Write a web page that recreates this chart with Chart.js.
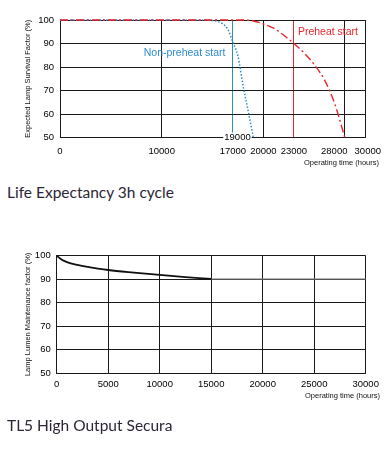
<!DOCTYPE html>
<html>
<head>
<meta charset="utf-8">
<script src="https://cdn.jsdelivr.net/npm/chart.js@4.4.1/dist/chart.umd.min.js"></script>
<style>
  html, body { margin: 0; padding: 0; background: #fff; }
  body { width: 389px; height: 456px; position: relative; overflow: hidden; }
  canvas { position: absolute; left: 0; }
  #lifeChart { top: 0; }
  #lumenChart { top: 230px; }
  .caption { position: absolute; left: 7px; font: 15.5px Lato, "Open Sans", sans-serif; color: #2b2535; white-space: nowrap; }
</style>
</head>
<body>
<canvas id="lifeChart" width="389" height="175"></canvas>
<div class="caption" style="top:183px">Life Expectancy 3h cycle</div>
<canvas id="lumenChart" width="389" height="190"></canvas>
<div class="caption" style="top:416px">TL5 High Output Secura</div>
<script>
// life expectancy, 3h cycle
const nonPreheatHours = [0, 5000, 10000, 14000, 15000, 15500, 16000, 16500, 17000, 17500, 18000, 18500, 19000];
const nonPreheatSurvival = [100, 100, 100, 100, 99.8, 99.4, 98.3, 96, 90.5, 84.5, 72, 61.3, 50];
const preheatHours = [0, 10000, 18000, 19000, 20000, 21000, 22000, 23000, 24000, 25000, 26000, 27000, 28000];
const preheatSurvival = [100, 100, 100, 99.6, 98.3, 96.5, 93.5, 90, 86, 81, 74.5, 64.5, 50];
const lifeTicks = [0, 10000, 17000, 20000, 23000, 28000, 30000];

// lumen maintenance
const lumenHours = [0, 500, 1000, 2000, 3000, 4000, 5000, 7500, 10000, 12500, 15000];
const lumenFactor = [100, 98.3, 97.3, 96.1, 95.2, 94.5, 93.9, 92.8, 91.8, 90.9, 90.1];
const plateauHours = [15000, 30000];
const plateauFactor = [90, 90];

const BLUE = '#2b8ccb';
const RED = '#e5262c';
const GRID = '#1a1a1a';
const tickFont = { family: '"Liberation Sans", Arial, sans-serif', size: 9.5 };
const titleFont = { family: '"Liberation Sans", Arial, sans-serif', size: 7.5 };

const pairs = (xs, ys) => xs.map((x, i) => ({ x: x, y: ys[i] }));

// text notes placed in data units
const notesPlugin = {
  id: 'notes',
  afterDatasetsDraw(chart, args, opts) {
    const ctx = chart.ctx;
    const xs = chart.scales.x, ys = chart.scales.y;
    (opts.items || []).forEach(n => {
      ctx.save();
      ctx.font = n.font;
      ctx.textAlign = n.align || 'left';
      ctx.textBaseline = 'middle';
      const px = xs.getPixelForValue(n.x);
      const py = ys.getPixelForValue(n.y);
      if (n.bg) {
        const w = ctx.measureText(n.text).width;
        const left = n.align === 'center' ? px - w / 2 : px;
        ctx.fillStyle = n.bg;
        ctx.fillRect(left - 1, py - 5, w + 2, 10);
      }
      ctx.fillStyle = n.color;
      ctx.fillText(n.text, px, py);
      ctx.restore();
    });
    (opts.pixelItems || []).forEach(n => {
      ctx.save();
      ctx.font = n.font;
      ctx.textAlign = n.align || 'left';
      ctx.textBaseline = 'middle';
      ctx.fillStyle = n.color;
      ctx.fillText(n.text, n.px, n.py);
      ctx.restore();
    });
  }
};

new Chart(document.getElementById('lifeChart'), {
  type: 'line',
  data: {
    datasets: [
      {
        data: pairs(preheatHours, preheatSurvival),
        borderColor: RED, borderWidth: 1.4, borderDash: [8, 3, 2, 3],
        pointRadius: 0, cubicInterpolationMode: 'monotone', clip: false
      },
      {
        data: pairs(nonPreheatHours, nonPreheatSurvival),
        borderColor: BLUE, borderWidth: 1.5, borderDash: [1.5, 1.8],
        pointRadius: 0, cubicInterpolationMode: 'monotone', clip: false
      }
    ]
  },
  options: {
    responsive: false,
    animation: false,
    layout: { padding: { top: 20, right: 19, left: 0, bottom: 0 } },
    plugins: {
      legend: { display: false },
      tooltip: { enabled: false },
      notes: {
        items: [
          { text: 'Non-preheat start', x: 8230, y: 85.8, color: BLUE, font: '10.5px "Liberation Sans", Arial, sans-serif' },
          { text: 'Preheat start', x: 23390, y: 95, color: RED, font: '10.5px "Liberation Sans", Arial, sans-serif' },
          { text: '19000', x: 17450, y: 50, align: 'center', bg: '#fff', color: '#000', font: '9.5px "Liberation Sans", Arial, sans-serif' }
        ],
        pixelItems: [
          { text: 'Operating time (hours)', px: 379, py: 163, align: 'right', color: '#111', font: '7.5px "Liberation Sans", Arial, sans-serif' }
        ]
      }
    },
    scales: {
      x: {
        type: 'linear', min: 0, max: 30000,
        afterFit: s => { s.height = 37.5; },
        afterBuildTicks: s => { s.ticks = lifeTicks.map(v => ({ value: v })); },
        grid: {
          color: c => c.tick && c.tick.value === 17000 ? BLUE : (c.tick && c.tick.value === 23000 ? RED : GRID),
          lineWidth: 1, drawTicks: false
        },
        border: { color: GRID, width: 1 },
        ticks: {
          autoSkip: false, maxRotation: 0, padding: 8, color: '#000', font: tickFont,
          callback: v => v === 28000 ? '28000\u2007\u2007\u2007\u2007' : (v === 30000 ? '\u200730000' : String(v))
        }
      },
      y: {
        min: 50, max: 100,
        afterFit: s => { s.width = 60; },
        grid: { color: GRID, lineWidth: 1, drawTicks: false },
        border: { color: GRID, width: 1 },
        ticks: { stepSize: 10, padding: 6, color: '#000', font: tickFont },
        title: {
          display: true, text: 'Expected Lamp Survival Factor (%)',
          color: '#111', font: titleFont, padding: { top: 23 }
        }
      }
    }
  },
  plugins: [notesPlugin]
});

new Chart(document.getElementById('lumenChart'), {
  type: 'line',
  data: {
    datasets: [
      {
        data: pairs(lumenHours, lumenFactor),
        borderColor: '#111', borderWidth: 1.8,
        pointRadius: 0, cubicInterpolationMode: 'monotone', clip: false
      },
      {
        data: pairs(plateauHours, plateauFactor),
        borderColor: '#6a6a6a', borderWidth: 1.4,
        pointRadius: 0, clip: false
      }
    ]
  },
  options: {
    responsive: false,
    animation: false,
    layout: { padding: { top: 25.7, right: 23.3, left: 0, bottom: 0 } },
    plugins: {
      legend: { display: false },
      tooltip: { enabled: false },
      notes: {
        pixelItems: [
          { text: 'Operating time (hours)', px: 380, py: 165.7, align: 'right', color: '#111', font: '7.5px "Liberation Sans", Arial, sans-serif' }
        ]
      }
    },
    scales: {
      x: {
        type: 'linear', min: 0, max: 30000,
        afterFit: s => { s.height = 47; },
        grid: { color: GRID, lineWidth: 1, drawTicks: false },
        border: { color: GRID, width: 1 },
        ticks: {
          stepSize: 5000, autoSkip: false, maxRotation: 0, padding: 6, color: '#000', font: tickFont,
          callback: v => String(v)
        }
      },
      y: {
        min: 50, max: 100,
        afterFit: s => { s.width = 56.7; },
        grid: { color: GRID, lineWidth: 1, drawTicks: false },
        border: { color: GRID, width: 1 },
        ticks: { stepSize: 10, padding: 6, color: '#000', font: tickFont },
        title: {
          display: true, text: 'Lamp Lumen Maintenance factor (%)',
          color: '#111', font: titleFont, padding: { top: 23.5 }
        }
      }
    }
  },
  plugins: [notesPlugin]
});
</script>
</body>
</html>
